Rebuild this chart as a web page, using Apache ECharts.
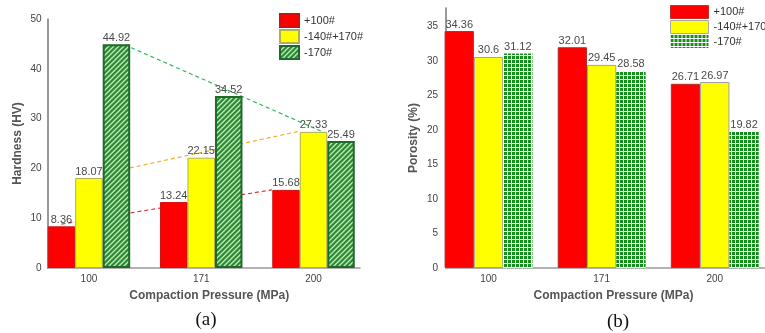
<!DOCTYPE html>
<html>
<head>
<meta charset="utf-8">
<script src="https://cdn.jsdelivr.net/npm/echarts@6.0.0/dist/echarts.min.js"></script>
<style>
  html, body { margin: 0; padding: 0; background: #fff; }
  #chart { width: 765px; height: 333px; }
</style>
</head>
<body>
<div id="chart"></div>
<script>
var pressures = ['100', '171', '200'];
var sizeNames = ['+100#', '-140#+170#', '-170#'];

// (a) hardness, HV
var hardCoarse = [8.36, 13.24, 15.68];
var hardMid = [18.07, 22.15, 27.33];
var hardFine = [44.92, 34.52, 25.49];

// (b) porosity, %
var poroCoarse = [34.36, 32.01, 26.71];
var poroMid = [30.6, 29.45, 26.97];
var poroFine = [31.12, 28.58, 19.82];

// dashed trend lines of (a), [position, value] of both ends
var trendCoarse = [[-0.245, 8.8], [1.63, 15.7]];
var trendMid = [[0.12, 18.9], [1.88, 27.5]];
var trendFine = [[0.32, 44.8], [2.085, 27.3]];

function toPoints(arr) {
  return arr.map(function (v, i) { return [i, v]; });
}

// diagonal hatch for -170# in (a)
function hatchTile() {
  var c = document.createElement('canvas');
  c.width = 5; c.height = 5;
  var g = c.getContext('2d');
  g.fillStyle = '#2a8a3c';
  g.fillRect(0, 0, 5, 5);
  g.strokeStyle = '#c4ecb0';
  g.lineWidth = 1.3;
  g.beginPath();
  g.moveTo(-1, 6); g.lineTo(6, -1);
  g.moveTo(-1, 1); g.lineTo(1, -1);
  g.moveTo(4, 6); g.lineTo(6, 4);
  g.stroke();
  return c;
}
// small checks for -170# in (b)
function checkTile() {
  var c = document.createElement('canvas');
  c.width = 4; c.height = 4;
  var g = c.getContext('2d');
  g.fillStyle = '#ffffff';
  g.fillRect(0, 0, 4, 4);
  g.fillStyle = '#14901a';
  g.fillRect(0, 0, 3, 3);
  return c;
}
var hatch = { image: hatchTile(), repeat: 'repeat' };
var checks = { image: checkTile(), repeat: 'repeat' };

var chart = echarts.init(document.getElementById('chart'));

var labelStyle = { show: true, position: 'top', distance: 1, color: '#4a4a4a', fontSize: 11 };
var axisText = { color: '#444', fontSize: 10 };
var nameText = { color: '#555', fontSize: 12, fontWeight: 'bold' };

function barSeries(name, data, axis, width, style) {
  return {
    name: name,
    type: 'bar',
    xAxisIndex: axis,
    yAxisIndex: axis,
    barWidth: width,
    barGap: '0%',
    z: 3,
    data: toPoints(data),
    itemStyle: style,
    label: labelStyle
  };
}
function trendSeries(data, color) {
  return {
    type: 'line',
    xAxisIndex: 0,
    yAxisIndex: 0,
    z: 1,
    symbol: 'none',
    silent: true,
    data: data,
    lineStyle: { color: color, width: 1.2, type: [4, 3] }
  };
}

chart.setOption({
  animation: false,
  textStyle: { fontFamily: '"Liberation Sans", Arial, sans-serif' },
  legend: [
    {
      orient: 'vertical', left: 279, top: 13, padding: 0,
      itemWidth: 19, itemHeight: 13, itemGap: 1, icon: 'rect',
      textStyle: { color: '#333', fontSize: 11 },
      data: sizeNames
    },
    {
      orient: 'vertical', left: 670, top: 5, padding: 0,
      itemWidth: 38, itemHeight: 13, itemGap: 1, icon: 'rect',
      textStyle: { color: '#333', fontSize: 11 },
      data: [
        { name: sizeNames[0], itemStyle: { color: '#ff0000', borderColor: '#c03030', borderWidth: 1 } },
        { name: sizeNames[1], itemStyle: { color: '#ffff00', borderColor: '#aaaaaa', borderWidth: 1 } },
        { name: sizeNames[2], itemStyle: { color: checks, borderWidth: 0 } }
      ]
    }
  ],
  grid: [
    { left: 47.5, top: 19, width: 312.5, height: 249 },
    { left: 446, top: 8, width: 330, height: 260 }
  ],
  xAxis: [
    {
      type: 'value', gridIndex: 0, min: -0.369, max: 2.414,
      name: 'Compaction Pressure (MPa)', nameLocation: 'middle', nameGap: 22,
      nameTextStyle: Object.assign({ padding: [0, 0, 0, 11] }, nameText),
      axisLine: { onZero: false, lineStyle: { color: '#999', width: 1.5 } },
      axisTick: { show: false },
      splitLine: { show: false },
      axisLabel: Object.assign({
        margin: 6, customValues: [0, 1, 2],
        formatter: function (v) { return pressures[Math.round(v)]; }
      }, axisText)
    },
    {
      type: 'value', gridIndex: 1, min: -0.376, max: 2.444,
      name: 'Compaction Pressure (MPa)', nameLocation: 'middle', nameGap: 22,
      nameTextStyle: Object.assign({ padding: [0, 0, 0, 16] }, nameText),
      axisLine: { onZero: false, lineStyle: { color: '#999', width: 1.5 } },
      axisTick: { show: false },
      splitLine: { show: false },
      axisLabel: Object.assign({
        margin: 6, customValues: [0, 1, 2],
        formatter: function (v) { return pressures[Math.round(v)]; }
      }, axisText)
    }
  ],
  yAxis: [
    {
      type: 'value', gridIndex: 0, min: 0, max: 50, interval: 10,
      name: 'Hardness (HV)', nameLocation: 'middle', nameGap: 24, nameTextStyle: nameText,
      axisLine: { show: true, onZero: false, lineStyle: { color: '#777', width: 1.5 } },
      axisTick: { show: false },
      splitLine: { show: false },
      axisLabel: Object.assign({ margin: 6 }, axisText)
    },
    {
      type: 'value', gridIndex: 1, min: 0, max: 37.7, interval: 5,
      name: 'Porosity (%)', nameLocation: 'middle', nameGap: 26, nameTextStyle: nameText,
      axisLine: { show: true, onZero: false, lineStyle: { color: '#777', width: 1.5 } },
      axisTick: { show: false },
      splitLine: { show: false },
      axisLabel: Object.assign({ margin: 8, showMaxLabel: false }, axisText)
    }
  ],
  graphic: [
    { type: 'text', x: 206, y: 320, style: { text: '(a)', align: 'center', verticalAlign: 'middle', fontSize: 19, fontFamily: '"Liberation Serif", serif', fill: '#111' } },
    { type: 'text', x: 618, y: 322, style: { text: '(b)', align: 'center', verticalAlign: 'middle', fontSize: 19, fontFamily: '"Liberation Serif", serif', fill: '#111' } }
  ],
  series: [
    barSeries(sizeNames[0], hardCoarse, 0, 27.5, { color: '#ff0000', borderColor: '#d01010', borderWidth: 1 }),
    barSeries(sizeNames[1], hardMid, 0, 27.5, { color: '#ffff00', borderColor: '#b0b050', borderWidth: 1 }),
    barSeries(sizeNames[2], hardFine, 0, 27.5, { color: hatch, borderColor: '#1d6a2a', borderWidth: 2 }),
    trendSeries(trendCoarse, '#e83030'),
    trendSeries(trendMid, '#f2b01e'),
    trendSeries(trendFine, '#2cb85a'),
    barSeries(sizeNames[0], poroCoarse, 1, 29.3, { color: '#ff0000', borderColor: '#b03030', borderWidth: 1 }),
    barSeries(sizeNames[1], poroMid, 1, 29.3, { color: '#ffff00', borderColor: '#a0a0a0', borderWidth: 1 }),
    barSeries(sizeNames[2], poroFine, 1, 29.3, { color: checks, borderWidth: 0 })
  ]
});
</script>
</body>
</html>
